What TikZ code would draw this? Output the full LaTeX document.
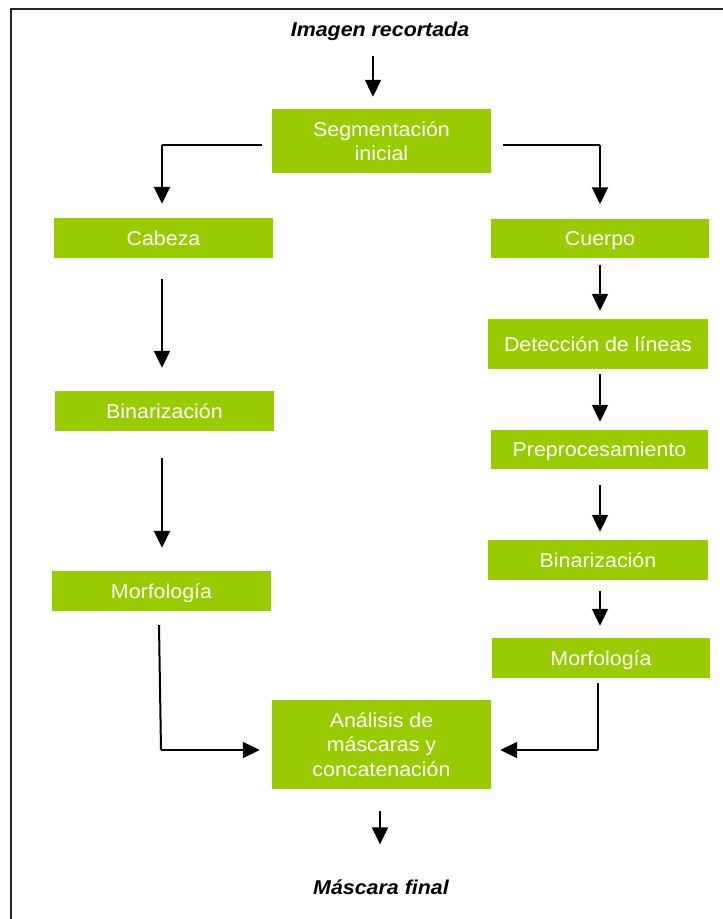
\documentclass[tikz,border=0pt]{standalone}
\usepackage{fontspec}
\setmainfont{Liberation Sans}[FakeStretch=1.07]
\usetikzlibrary{arrows.meta}
\definecolor{boxgreen}{HTML}{99CC00}
\tikzset{
  gbox/.style={fill=boxgreen, text=white, inner sep=0pt,
    font=\fontsize{20}{24.5}\selectfont},
  one/.style={text height=14.3pt, text depth=0pt},
  multi/.style={align=center},
  ttl/.style={inner sep=0pt, font=\fontsize{20}{24}\selectfont\bfseries\itshape},
  arr/.style={line width=2pt, -{Triangle[width=16pt,length=17pt]}},
  ln/.style={line width=2pt}
}
\begin{document}
\begin{tikzpicture}[x=1pt,y=-1pt]
\useasboundingbox (0,0) rectangle (723,919);
% frame
\draw[line width=2.2pt, black!85] (11,940) -- (11,9) -- (740,9);
% titles
\node[ttl] (tin) at (380,31) {Imagen recortada};
\node[ttl] (tout) at (381,887) {Máscara final};
% boxes
\node[gbox, multi, minimum width=219pt, minimum height=64pt] (seg) at (381.5,141) {Segmentación\\inicial};
\node[gbox, one, minimum width=219pt, minimum height=40pt] (cab) at (163.5,238) {Cabeza};
\node[gbox, one, minimum width=219pt, minimum height=40pt] (binL) at (164.5,411) {Binarización};
\node[gbox, one, minimum width=219pt, minimum height=40pt] (morL) at (161.5,591) {Morfología};
\node[gbox, one, minimum width=218pt, minimum height=39pt] (cue) at (600,238) {Cuerpo};
\node[gbox, one, minimum width=220pt, minimum height=50pt] (det) at (598,344) {Detección de líneas};
\node[gbox, one, minimum width=217pt, minimum height=39pt] (pre) at (599.5,449.5) {Preprocesamiento};
\node[gbox, one, minimum width=220pt, minimum height=40pt] (binR) at (598,560) {Binarización};
\node[gbox, one, minimum width=218pt, minimum height=40pt] (morR) at (601,658) {Morfología};
\node[gbox, multi, minimum width=219pt, minimum height=89pt] (ana) at (381.5,744.5) {Análisis de\\máscaras y\\concatenación};
% helper coordinates
\coordinate (cL) at (162,145);
\coordinate (cR) at (600,145);
\coordinate (cBL) at (161,750);
\coordinate (cBR) at (598,750);
% connectors
\draw[arr] ([xshift=-7pt,yshift=-15pt]tin.south) -- ([xshift=-8.5pt,yshift=12pt]seg.north);
\draw[ln] ([xshift=-10pt,yshift=-4pt]seg.west) -- (cL);
\draw[arr] (cL) -- ([xshift=-1.5pt,yshift=14pt]cab.north);
\draw[ln] ([xshift=12pt,yshift=-4pt]seg.east) -- (cR);
\draw[arr] (cR) -- ([yshift=14pt]cue.north);
\draw[arr] ([xshift=-1.5pt,yshift=-21pt]cab.south) -- ([xshift=-2.5pt,yshift=23pt]binL.north);
\draw[arr] ([xshift=-2.5pt,yshift=-27pt]binL.south) -- ([xshift=0.5pt,yshift=23pt]morL.north);
\draw[ln] ([xshift=-2.5pt,yshift=-14pt]morL.south) -- (cBL);
\draw[arr] (cBL) -- ([xshift=-12pt,yshift=-5.5pt]ana.west);
\draw[ln] ([xshift=-3pt,yshift=-5pt]morR.south) -- (cBR);
\draw[arr] (cBR) -- ([xshift=9pt,yshift=-5.5pt]ana.east);
\draw[arr] ([yshift=-7pt]cue.south) -- ([xshift=2pt,yshift=8pt]det.north);
\draw[arr] ([xshift=2pt,yshift=-5pt]det.south) -- ([xshift=0.5pt,yshift=8pt]pre.north);
\draw[arr] ([xshift=0.5pt,yshift=-16pt]pre.south) -- ([xshift=2pt,yshift=8pt]binR.north);
\draw[arr] ([xshift=2pt,yshift=-11pt]binR.south) -- ([xshift=-1pt,yshift=12pt]morR.north);
\draw[arr] ([xshift=-1.5pt,yshift=-22pt]ana.south) -- ([xshift=-1pt,yshift=35pt]tout.north);
\end{tikzpicture}
\end{document}
